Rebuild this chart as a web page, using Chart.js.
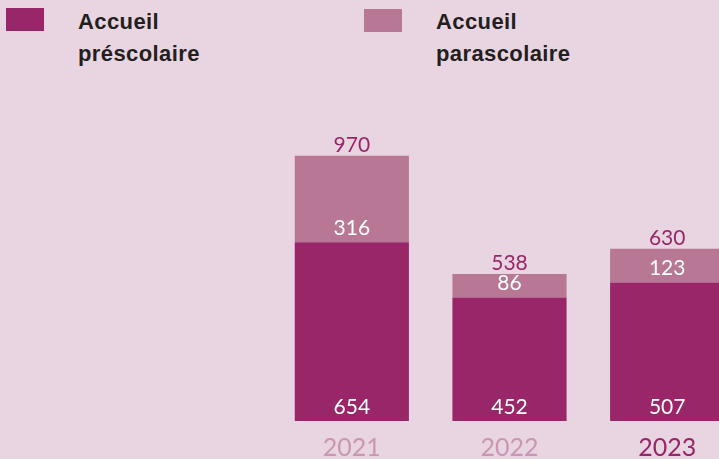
<!DOCTYPE html>
<html>
<head>
<meta charset="utf-8">
<script src="https://cdn.jsdelivr.net/npm/chart.js@4/dist/chart.umd.min.js"></script>
<style>
  html, body { margin: 0; padding: 0; background: #e9d5e1; overflow: hidden; width: 719px; height: 459px; }
  #wrap { position: absolute; left: 0; top: 0; width: 746px; height: 475px; }
  .key { position: absolute; width: 38px; height: 23px; }
  .lbl { position: absolute; font-family: "Liberation Sans", Arial, sans-serif; font-weight: 700; font-size: 22px; line-height: 32px; letter-spacing: 0.4px; color: #231f20; }
</style>
</head>
<body>
<div class="key" style="left:6px;top:8px;background:#982668"></div>
<div class="lbl" style="left:78px;top:6px">Accueil<br>préscolaire</div>
<div class="key" style="left:364px;top:9px;background:#b87895"></div>
<div class="lbl" style="left:436px;top:6px">Accueil<br>parascolaire</div>
<div id="wrap"><canvas id="chart"></canvas></div>
<script>
let years = ['2021', '2022', '2023'];
let prescolaire = [654, 452, 507];
let parascolaire = [316, 86, 123];
let totals = [970, 538, 630];

let darkColor = '#982668';
let lightColor = '#b87895';

// labels inside the segments + totals above bars
let barLabels = {
    id: 'barLabels',
    afterDatasetsDraw(chart) {
        let ctx = chart.ctx;
        ctx.save();
        ctx.font = '400 21px Lato, sans-serif';
        ctx.textAlign = 'center';
        ctx.textBaseline = 'middle';
        chart.data.datasets.forEach((ds, i) => {
            let meta = chart.getDatasetMeta(i);
            meta.data.forEach((bar, j) => {
                ctx.fillStyle = '#ffffff';
                ctx.fillText(ds.data[j], bar.x, bar.base - 14);
                if (i === chart.data.datasets.length - 1) {
                    ctx.fillStyle = darkColor;
                    ctx.fillText(totals[j], bar.x, bar.y - 11);
                }
            });
        });
        ctx.restore();
    }
};

new Chart(document.getElementById('chart'), {
    type: 'bar',
    data: {
        labels: years,
        datasets: [
            { label: 'Accueil préscolaire', data: prescolaire, backgroundColor: darkColor },
            { label: 'Accueil parascolaire', data: parascolaire, backgroundColor: lightColor }
        ]
    },
    options: {
        responsive: true,
        maintainAspectRatio: false,
        animation: false,
        layout: { padding: { left: 273, top: 93, right: 0, bottom: 0 } },
        plugins: { legend: { display: false }, tooltip: { enabled: false } },
        datasets: { bar: { categoryPercentage: 0.724, barPercentage: 1 } },
        scales: {
            x: {
                stacked: true,
                grid: { display: false, drawTicks: false },
                border: { display: false },
                ticks: {
                    padding: 12,
                    font: { family: 'Lato, sans-serif', size: 25 },
                    color: (c) => c.index === 2 ? darkColor : '#c897b3'
                }
            },
            y: { stacked: true, display: false, min: 0, max: 1200 }
        }
    },
    plugins: [barLabels]
});
</script>
</body>
</html>
